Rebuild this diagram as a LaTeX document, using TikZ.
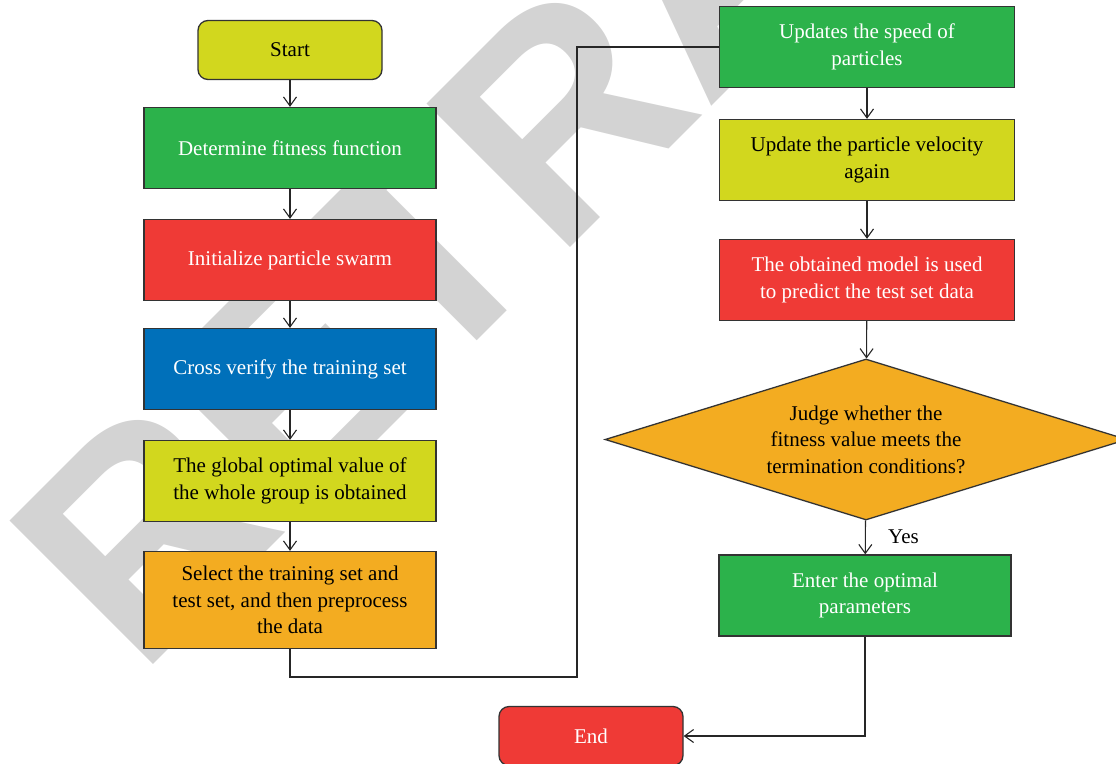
\documentclass[tikz,border=0pt]{standalone}
\usepackage{fontspec}
\setmainfont{Liberation Serif}
\setsansfont{Liberation Sans}
\usetikzlibrary{shapes.geometric,arrows.meta}

\definecolor{lime}{RGB}{210,215,30}
\definecolor{grn}{RGB}{44,178,75}
\definecolor{rd}{RGB}{239,58,54}
\definecolor{blu}{RGB}{0,112,186}
\definecolor{orng}{RGB}{243,172,33}
\definecolor{wm}{RGB}{211,211,211}

\tikzset{
  box/.style={draw=black!80, line width=1.3pt, minimum width=292pt, minimum height=81pt,
    inner sep=0pt, align=center, font=\fontsize{21}{26.5}\selectfont},
  term/.style={box, rounded corners=10pt, minimum width=184pt, minimum height=59pt},
  judge/.style={box, diamond, fill=orng, aspect=3.24, minimum width=522pt, minimum height=161pt},
  link/.style={line width=1.1pt, black!85},
  arr/.style={link, -{Straight Barb[length=9pt,width=13pt]}},
  wmark/.style={text=wm, font=\fontsize{295}{295}\sffamily\bfseries, inner sep=0pt}
}

\begin{document}
\begin{tikzpicture}[x=1pt,y=-1pt]
\useasboundingbox (0,0) rectangle (1116,763);
% watermark behind everything
\node[wmark, rotate=45, anchor=base west] at (139,679) {RETRACTED};

% left column
\node[term, fill=lime] (start) at (290,50) {Start};
\node[box, fill=grn, text=white] (fit) at (290,148) {Determine fitness function};
\node[box, fill=rd, text=white] (init) at (290,260) {Initialize particle swarm};
\node[box, fill=blu, text=white] (cross) at (290,369) {Cross verify the training set};
\node[box, fill=lime] (glob) at (290,481) {The global optimal value of\\the whole group is obtained};
\node[box, fill=orng, minimum height=97pt] (sel) at (290,600) {Select the training set and\\test set, and then preprocess\\the data};

% right column
\node[box, fill=grn, text=white, minimum width=295pt] (upd) at (867,47) {Updates the speed of\\particles};
\node[box, fill=lime, minimum width=295pt] (vel) at (867,160) {Update the particle velocity\\again};
\node[box, fill=rd, text=white, minimum width=295pt] (pred) at (867,280) {The obtained model is used\\to predict the test set data};
\node[judge] (judge) at (866,439.5) {Judge whether the\\fitness value meets the\\termination conditions?};
\node[box, fill=grn, text=white] (opt) at (865,595.5) {Enter the optimal\\parameters};
\node[term, fill=rd, text=white] (stop) at (591,736) {End};
\coordinate (turn) at (577,677);

% connectors
\draw[arr] (start) -- (fit);
\draw[arr] (fit) -- (init);
\draw[arr] (init) -- (cross);
\draw[arr] (cross) -- (glob);
\draw[arr] (glob) -- (sel);
\draw[link] (sel.south) |- (turn) |- (upd.west);
\draw[arr] (upd) -- (vel);
\draw[arr] (vel) -- (pred);
\draw[arr] (pred) -- (judge);
\draw[arr] (judge) -- (opt);
\draw[arr] (opt.south) |- (stop.east);
\node[anchor=west, font=\fontsize{21}{26.5}\selectfont, inner sep=0pt] (yes) at (888,537) {Yes};
\end{tikzpicture}
\end{document}
